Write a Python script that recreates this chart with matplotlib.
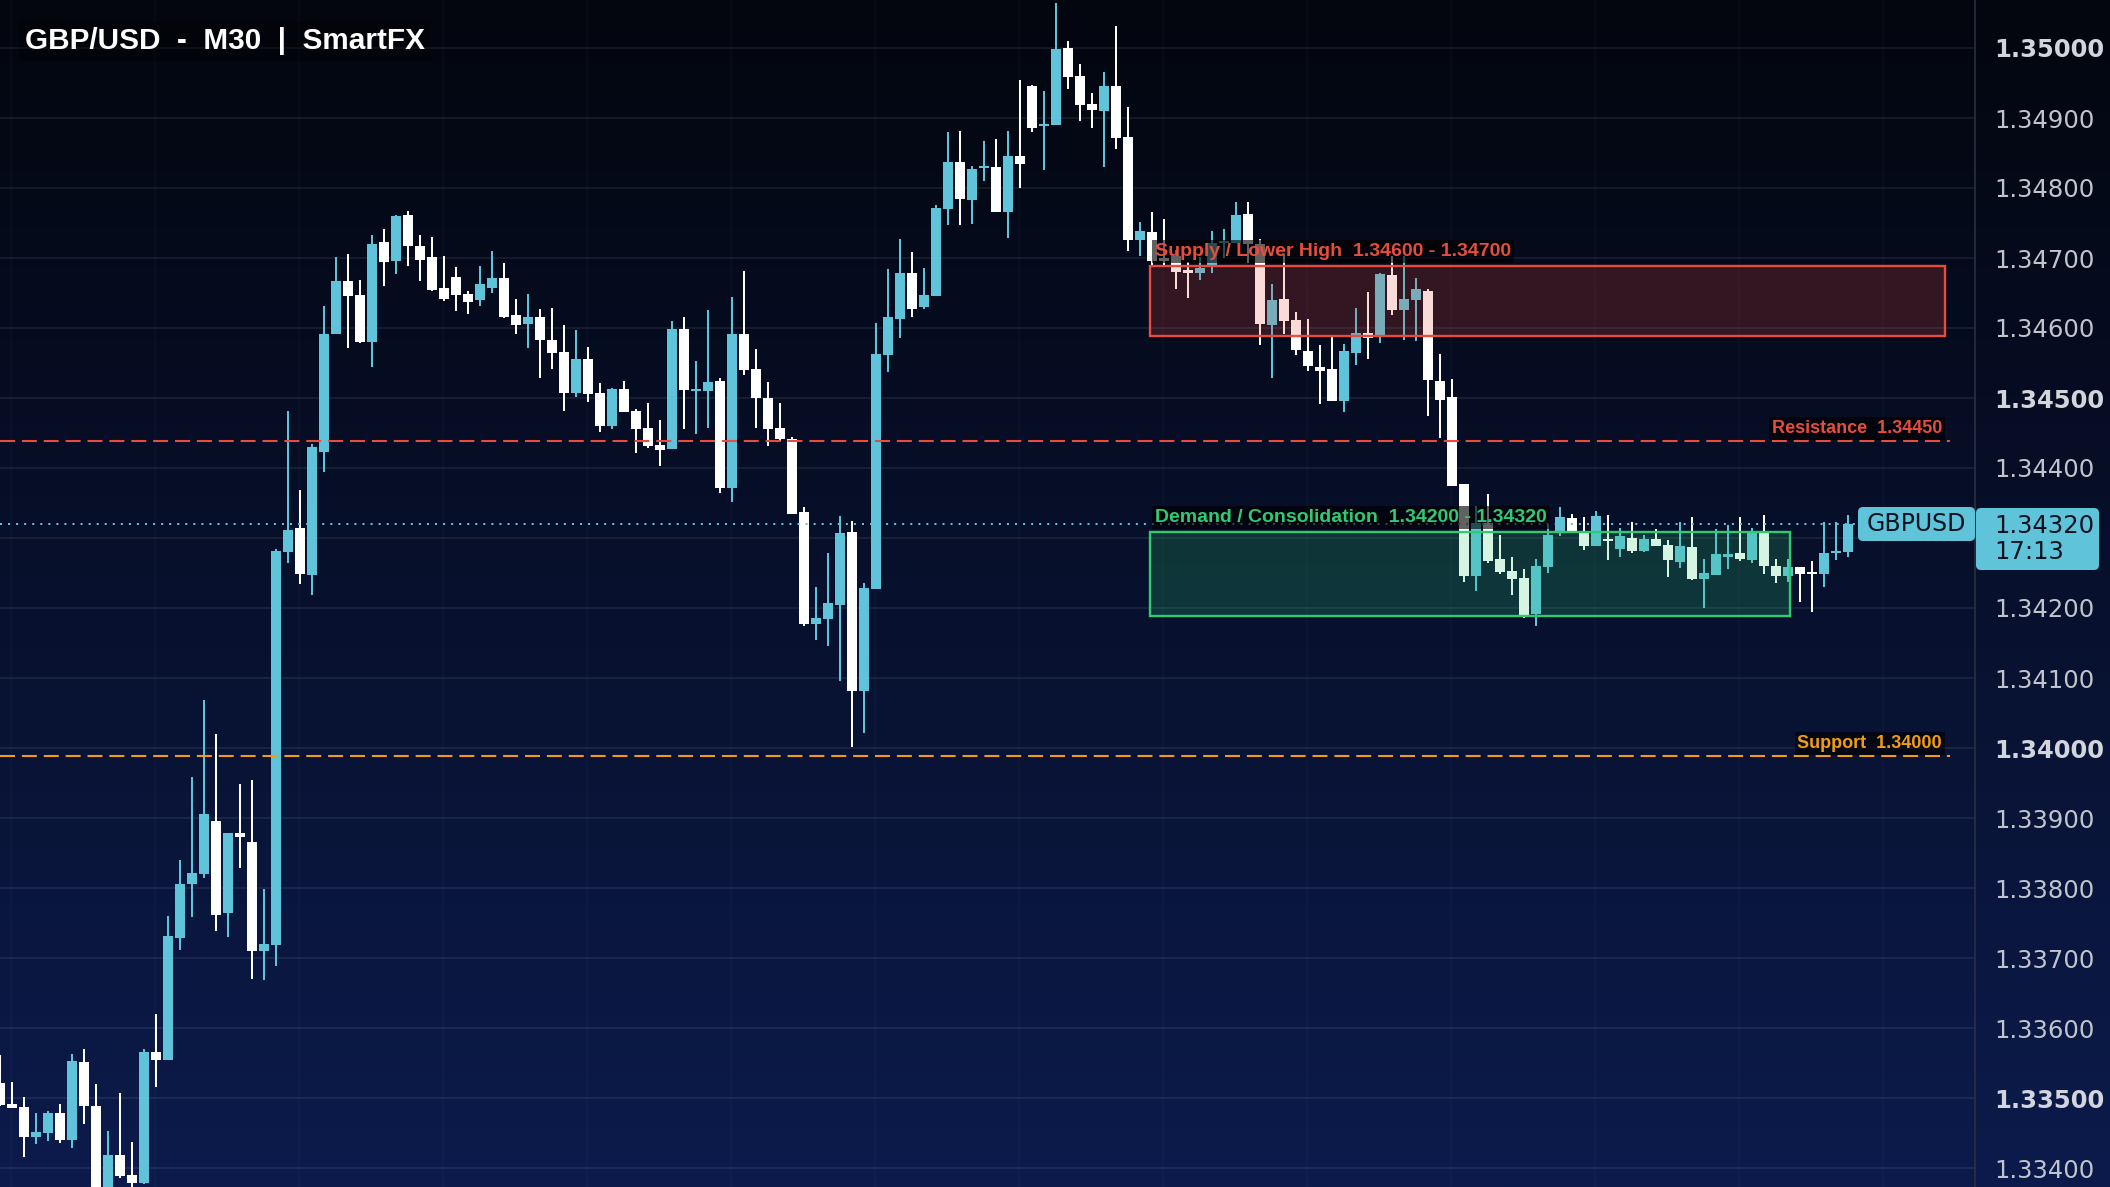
import matplotlib
matplotlib.use("Agg")
import matplotlib.pyplot as plt
import numpy as np
from matplotlib.patches import Rectangle, FancyBboxPatch
from matplotlib.colors import to_rgba
from matplotlib.transforms import IdentityTransform

# ---- data ----
opens = [1.33522, 1.33491, 1.33487, 1.33445, 1.33450, 1.33479, 1.33440, 1.33551, 1.33489, 1.33360,
         1.33419, 1.33390, 1.33378, 1.33566, 1.33555, 1.33729, 1.33806, 1.33820, 1.33896, 1.33765,
         1.33879, 1.33866, 1.33710, 1.33719, 1.34280, 1.34314, 1.34247, 1.34423, 1.34591, 1.34667,
         1.34647, 1.34580, 1.34723, 1.34696, 1.34761, 1.34717, 1.34701, 1.34657, 1.34673, 1.34649,
         1.34640, 1.34657, 1.34671, 1.34619, 1.34606, 1.34616, 1.34583, 1.34566, 1.34507, 1.34556,
         1.34507, 1.34460, 1.34513, 1.34481, 1.34457, 1.34433, 1.34427, 1.34599, 1.34510, 1.34510,
         1.34524, 1.34371, 1.34591, 1.34541, 1.34500, 1.34457, 1.34441, 1.34337, 1.34177, 1.34184,
         1.34204, 1.34309, 1.34081, 1.34227, 1.34561, 1.34613, 1.34679, 1.34630, 1.34646, 1.34770,
         1.34837, 1.34783, 1.34829, 1.34830, 1.34766, 1.34846, 1.34946, 1.34889, 1.34890, 1.35000,
         1.34960, 1.34920, 1.34910, 1.34946, 1.34873, 1.34726, 1.34737, 1.34700, 1.34703, 1.34683,
         1.34679, 1.34690, 1.34721, 1.34721, 1.34763, 1.34720, 1.34604, 1.34641, 1.34611, 1.34567,
         1.34544, 1.34541, 1.34496, 1.34564, 1.34593, 1.34587, 1.34676, 1.34626, 1.34640, 1.34653,
         1.34524, 1.34501, 1.34377, 1.34246, 1.34321, 1.34270, 1.34253, 1.34243, 1.34191, 1.34259,
         1.34310, 1.34329, 1.34310, 1.34289, 1.34299, 1.34284, 1.34300, 1.34281, 1.34299, 1.34290,
         1.34266, 1.34287, 1.34241, 1.34247, 1.34273, 1.34279, 1.34269, 1.34310, 1.34260, 1.34246,
         1.34259, 1.34251, 1.34249, 1.34279, 1.34280]
highs = [1.33561, 1.33523, 1.33501, 1.33479, 1.33481, 1.33491, 1.33563, 1.33570, 1.33520, 1.33453,
         1.33507, 1.33437, 1.33570, 1.33620, 1.33760, 1.33840, 1.33959, 1.34069, 1.34020, 1.33879,
         1.33949, 1.33954, 1.33799, 1.34284, 1.34481, 1.34368, 1.34435, 1.34631, 1.34701, 1.34706,
         1.34669, 1.34733, 1.34741, 1.34761, 1.34767, 1.34733, 1.34730, 1.34703, 1.34687, 1.34653,
         1.34689, 1.34710, 1.34693, 1.34641, 1.34649, 1.34627, 1.34629, 1.34604, 1.34597, 1.34573,
         1.34521, 1.34514, 1.34524, 1.34484, 1.34493, 1.34469, 1.34610, 1.34616, 1.34553, 1.34626,
         1.34529, 1.34644, 1.34681, 1.34570, 1.34523, 1.34493, 1.34444, 1.34344, 1.34230, 1.34279,
         1.34331, 1.34324, 1.34236, 1.34607, 1.34684, 1.34727, 1.34709, 1.34686, 1.34776, 1.34880,
         1.34881, 1.34831, 1.34867, 1.34870, 1.34881, 1.34954, 1.34947, 1.34939, 1.35064, 1.35010,
         1.34977, 1.34936, 1.34966, 1.35031, 1.34916, 1.34751, 1.34766, 1.34756, 1.34711, 1.34694,
         1.34701, 1.34739, 1.34741, 1.34780, 1.34780, 1.34727, 1.34663, 1.34706, 1.34623, 1.34613,
         1.34576, 1.34587, 1.34577, 1.34629, 1.34651, 1.34679, 1.34703, 1.34703, 1.34671, 1.34656,
         1.34563, 1.34527, 1.34377, 1.34346, 1.34363, 1.34304, 1.34273, 1.34256, 1.34270, 1.34319,
         1.34344, 1.34334, 1.34330, 1.34339, 1.34333, 1.34314, 1.34323, 1.34304, 1.34313, 1.34297,
         1.34323, 1.34330, 1.34270, 1.34313, 1.34319, 1.34330, 1.34314, 1.34333, 1.34270, 1.34270,
         1.34259, 1.34267, 1.34323, 1.34323, 1.34333]
lows = [1.33488, 1.33486, 1.33416, 1.33435, 1.33439, 1.33436, 1.33429, 1.33463, 1.33340, 1.33345,
        1.33386, 1.33365, 1.33377, 1.33516, 1.33554, 1.33712, 1.33759, 1.33815, 1.33738, 1.33730,
        1.33828, 1.33670, 1.33669, 1.33688, 1.34264, 1.34234, 1.34219, 1.34394, 1.34591, 1.34571,
        1.34579, 1.34544, 1.34660, 1.34677, 1.34689, 1.34667, 1.34653, 1.34639, 1.34624, 1.34620,
        1.34631, 1.34650, 1.34614, 1.34591, 1.34571, 1.34529, 1.34541, 1.34481, 1.34501, 1.34494,
        1.34451, 1.34456, 1.34480, 1.34421, 1.34429, 1.34403, 1.34427, 1.34456, 1.34449, 1.34457,
        1.34364, 1.34351, 1.34533, 1.34457, 1.34431, 1.34439, 1.34334, 1.34174, 1.34154, 1.34146,
        1.34096, 1.34001, 1.34021, 1.34227, 1.34537, 1.34586, 1.34616, 1.34627, 1.34646, 1.34747,
        1.34747, 1.34749, 1.34810, 1.34766, 1.34729, 1.34800, 1.34880, 1.34826, 1.34890, 1.34941,
        1.34896, 1.34886, 1.34830, 1.34856, 1.34710, 1.34703, 1.34689, 1.34689, 1.34656, 1.34643,
        1.34669, 1.34679, 1.34700, 1.34721, 1.34693, 1.34576, 1.34529, 1.34591, 1.34561, 1.34539,
        1.34491, 1.34496, 1.34480, 1.34547, 1.34556, 1.34579, 1.34619, 1.34583, 1.34581, 1.34474,
        1.34443, 1.34374, 1.34237, 1.34224, 1.34264, 1.34249, 1.34219, 1.34186, 1.34174, 1.34250,
        1.34303, 1.34309, 1.34283, 1.34289, 1.34269, 1.34273, 1.34279, 1.34280, 1.34289, 1.34244,
        1.34257, 1.34240, 1.34200, 1.34247, 1.34256, 1.34267, 1.34264, 1.34249, 1.34236, 1.34237,
        1.34209, 1.34194, 1.34230, 1.34269, 1.34273]
closes = [1.33490, 1.33486, 1.33445, 1.33451, 1.33479, 1.33440, 1.33553, 1.33488, 1.33355, 1.33419,
          1.33388, 1.33378, 1.33566, 1.33555, 1.33731, 1.33806, 1.33821, 1.33906, 1.33762, 1.33879,
          1.33873, 1.33710, 1.33720, 1.34281, 1.34311, 1.34249, 1.34430, 1.34591, 1.34667, 1.34646,
          1.34580, 1.34720, 1.34694, 1.34760, 1.34717, 1.34697, 1.34654, 1.34641, 1.34647, 1.34637,
          1.34663, 1.34671, 1.34616, 1.34604, 1.34616, 1.34583, 1.34564, 1.34507, 1.34556, 1.34506,
          1.34460, 1.34513, 1.34480, 1.34456, 1.34431, 1.34426, 1.34599, 1.34511, 1.34513, 1.34523,
          1.34371, 1.34591, 1.34540, 1.34500, 1.34456, 1.34441, 1.34334, 1.34177, 1.34186, 1.34207,
          1.34307, 1.34081, 1.34229, 1.34563, 1.34616, 1.34679, 1.34627, 1.34647, 1.34771, 1.34837,
          1.34784, 1.34827, 1.34831, 1.34766, 1.34846, 1.34834, 1.34886, 1.34891, 1.34999, 1.34959,
          1.34919, 1.34911, 1.34946, 1.34871, 1.34726, 1.34739, 1.34695, 1.34696, 1.34680, 1.34679,
          1.34686, 1.34721, 1.34723, 1.34761, 1.34720, 1.34606, 1.34640, 1.34610, 1.34569, 1.34546,
          1.34539, 1.34496, 1.34567, 1.34593, 1.34586, 1.34677, 1.34626, 1.34641, 1.34656, 1.34526,
          1.34497, 1.34374, 1.34246, 1.34321, 1.34267, 1.34251, 1.34241, 1.34187, 1.34260, 1.34304,
          1.34330, 1.34309, 1.34289, 1.34331, 1.34296, 1.34303, 1.34281, 1.34299, 1.34289, 1.34269,
          1.34289, 1.34241, 1.34250, 1.34277, 1.34277, 1.34270, 1.34310, 1.34260, 1.34246, 1.34259,
          1.34249, 1.34249, 1.34279, 1.34281, 1.34320]

title = "GBP/USD  -  M30  |  SmartFX"
symbol = "GBPUSD"
last_time = "17:13"
price_ticks = [1.334, 1.335, 1.336, 1.337, 1.338, 1.339, 1.340, 1.341,
               1.342, 1.343, 1.344, 1.345, 1.346, 1.347, 1.348, 1.349, 1.350]

supply_zone = [1.34600, 1.34700]
demand_zone = [1.34200, 1.34320]
resistance = 1.34450
support = 1.34000
zone_start = 95.85     # candle index where the zones begin
supply_end = 162.1
demand_end = 149.2

# ---- layout / style ----
W, H = 2110, 1187
AX_RIGHT = 1975
CANDLE_PX = 12
PX_PER_UNIT = 70000.0          # pixels per 1.0 of price
Y_REF_PRICE, Y_REF_PX = 1.35, 48
LEVEL_SHIFT = 0.00012          # drawn levels sit a bit under their labels
LINE_END = 162.5

BULL = '#5fc3d9'
BEAR = '#ffffff'
RED = '#e74c3c'
GREEN = '#2ecc71'
ORANGE = '#f39c12'

fig = plt.figure(figsize=(W / 100, H / 100), dpi=100)

# background gradient
bg = fig.add_axes([0, 0, 1, 1], zorder=-10)
top = np.array([3, 6, 14]) / 255
bot = np.array([12, 27, 76]) / 255
t = np.linspace(0, 1, 400)[:, None]
grad = (top[None, :] * (1 - t) + bot[None, :] * t)[:, None, :]
bg.imshow(grad, aspect='auto', extent=[0, 1, 0, 1])
bg.axis('off')

ax = fig.add_axes([0, 0, AX_RIGHT / W, 1])
ax.set_facecolor('none')
ax.set_xlim(0, AX_RIGHT / CANDLE_PX)
ax.set_ylim(Y_REF_PRICE - (H - Y_REF_PX) / PX_PER_UNIT, Y_REF_PRICE + Y_REF_PX / PX_PER_UNIT)

for s in ['top', 'left', 'bottom']:
    ax.spines[s].set_visible(False)
ax.spines['right'].set_color('#2a3042')
ax.spines['right'].set_linewidth(1.2)

last = closes[-1]

# grid
ax.set_yticks(price_ticks)
ax.yaxis.tick_right()
ax.set_xticks([])
ax.grid(axis='y', color='white', alpha=0.07, lw=1.5, zorder=0)
for gx in np.arange(0.9, AX_RIGHT / CANDLE_PX, 12):
    ax.axvline(gx, color='white', alpha=0.025, lw=1.2, zorder=0)

# tick labels hidden under the price tag are left blank
ax.tick_params(axis='y', length=0, pad=14, labelsize=17.5, labelcolor='#c0c4cc')
ax.set_yticklabels(['' if abs(v - last) < 0.0005 else f'{v:.5f}' for v in price_ticks])
for v, lab in zip(price_ticks, ax.get_yticklabels()):
    lab.set_family('DejaVu Sans')
    if abs(v * 200 - round(v * 200)) < 1e-6:
        lab.set_fontweight('bold')
        lab.set_color('#d2d5dc')

# candles
o = np.array(opens)
h = np.array(highs)
l = np.array(lows)
c = np.array(closes)
x = np.arange(len(o))
cols = [BULL if cc > oo else BEAR for oo, cc in zip(o, c)]
ax.vlines(x, l, h, colors=cols, lw=1.45, zorder=3)
body_lo = np.minimum(o, c)
body_h = np.maximum(np.abs(c - o), 0.00003)
ax.bar(x, body_h, bottom=body_lo, width=0.83, color=cols, lw=0, zorder=4)

# zones
for zone, end, col in [(supply_zone, supply_end, RED), (demand_zone, demand_end, GREEN)]:
    ax.add_patch(Rectangle((zone_start, zone[0] - LEVEL_SHIFT), end - zone_start,
                           zone[1] - zone[0], facecolor=to_rgba(col, 0.2),
                           edgecolor=col, lw=1.7, zorder=5))

label_box = dict(boxstyle='square,pad=0.15', fc='black', ec='none', alpha=0.62)
ax.annotate(f'Supply / Lower High  {supply_zone[0]:.5f} - {supply_zone[1]:.5f}',
            xy=(zone_start, supply_zone[1]), xytext=(5, -2), textcoords='offset pixels',
            ha='left', va='bottom', color=RED, fontsize=14, fontweight='bold',
            family='Liberation Sans', bbox=label_box, zorder=9)
ax.annotate(f'Demand / Consolidation  {demand_zone[0]:.5f} - {demand_zone[1]:.5f}',
            xy=(zone_start, demand_zone[1]), xytext=(5, -2), textcoords='offset pixels',
            ha='left', va='bottom', color=GREEN, fontsize=14, fontweight='bold',
            family='Liberation Sans', bbox=label_box, zorder=9)

# support / resistance
for lvl, col, name in [(resistance, RED, 'Resistance'), (support, ORANGE, 'Support')]:
    ax.hlines(lvl - LEVEL_SHIFT, 0, LINE_END, colors=col, lw=1.5,
              linestyles=(0, (7.2, 3.3)), zorder=6)
    ax.annotate(f'{name}  {lvl:.5f}', xy=(LINE_END, lvl), xytext=(-8, -4),
                textcoords='offset pixels', ha='right', va='bottom', color=col,
                fontsize=13, fontweight='bold', family='Liberation Sans',
                bbox=label_box, zorder=9)

# current price line
ax.axhline(last, color=BULL, lw=1.45, ls=(0, (1, 3)), zorder=6)

# title
fig.text(25 / W, 1 - 41 / H, title, ha='left', va='center', color='white',
         fontsize=21.4, fontweight='bold', family='Liberation Sans',
         bbox=dict(boxstyle='square,pad=0.2', fc='black', ec='none', alpha=0.3), zorder=10)

# price tags
yd = ax.transData.transform((0, last))[1]
fig.add_artist(FancyBboxPatch((1858, yd - 17), 117, 34,
                              boxstyle='round,pad=0,rounding_size=5',
                              fc=BULL, ec='none', transform=IdentityTransform(), zorder=10))
fig.text(1867, yd, symbol, ha='left', va='center', color='#0b1220', fontsize=17,
         family='DejaVu Sans', transform=IdentityTransform(), zorder=11)
fig.add_artist(FancyBboxPatch((1976, yd - 46), 123, 62,
                              boxstyle='round,pad=0,rounding_size=5',
                              fc=BULL, ec='none', transform=IdentityTransform(), zorder=10))
fig.text(1994, yd + 10, f'{last:.5f}\n{last_time}', ha='left', va='top', color='#0b1220',
         fontsize=17.5, family='DejaVu Sans', linespacing=1.12,
         transform=IdentityTransform(), zorder=11)

fig.savefig('out.png', dpi=100)
